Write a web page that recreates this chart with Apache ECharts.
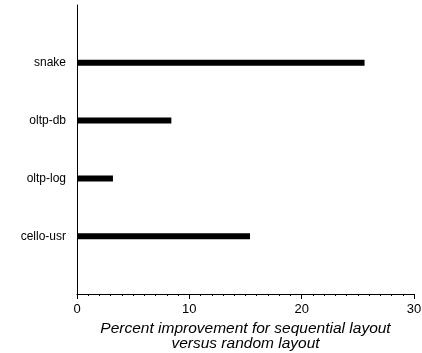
<!DOCTYPE html>
<html>
<head>
<meta charset="utf-8">
<script src="https://cdn.jsdelivr.net/npm/echarts@6/dist/echarts.min.js"></script>
<style>
  html, body { margin: 0; padding: 0; background: #fff; }
  #chart { width: 422px; height: 353px; }
</style>
</head>
<body>
<div id="chart"></div>
<script>
// Workloads, bottom to top; blank slots pad the axis above and below.
const categories = ['', 'cello-usr', 'oltp-log', 'oltp-db', 'snake', ''];
// Percent improvement of sequential over random layout.
const improvement = [null, 15.4, 3.2, 8.4, 25.6, null];
const xTicks = [0, 10, 20, 30];

const chart = echarts.init(document.getElementById('chart'));
const font = 'Liberation Sans, Arial, Helvetica, sans-serif';

chart.setOption({
  animation: false,
  grid: { left: 77, right: 8, top: 5, bottom: 59, containLabel: false, outerBoundsMode: 'none' },
  xAxis: {
    type: 'value',
    min: xTicks[0],
    max: xTicks[xTicks.length - 1],
    interval: xTicks[1] - xTicks[0],
    name: 'Percent improvement for sequential layout\nversus random layout',
    nameLocation: 'middle',
    nameGap: 27,
    nameTextStyle: {
      fontFamily: font, fontSize: 15.5, fontStyle: 'italic', color: '#000', lineHeight: 15,
      verticalAlign: 'top'
    },
    axisLine: { show: true, lineStyle: { color: '#000', width: 1 } },
    axisTick: { show: true, length: 5, lineStyle: { color: '#000' } },
    minorTick: { show: true, splitNumber: 10, length: 2, lineStyle: { color: '#000' } },
    axisLabel: { fontFamily: font, fontSize: 13, color: '#000', margin: 9 },
    splitLine: { show: false }
  },
  yAxis: {
    type: 'category',
    data: categories,
    boundaryGap: false,
    axisLine: { show: true, lineStyle: { color: '#000', width: 1 } },
    axisTick: { show: false },
    axisLabel: { fontFamily: font, fontSize: 12, color: '#000', margin: 11 },
    splitLine: { show: false }
  },
  series: [{
    type: 'bar',
    data: improvement,
    barWidth: 6,
    itemStyle: { color: '#000' },
    silent: true
  }]
});
</script>
</body>
</html>
